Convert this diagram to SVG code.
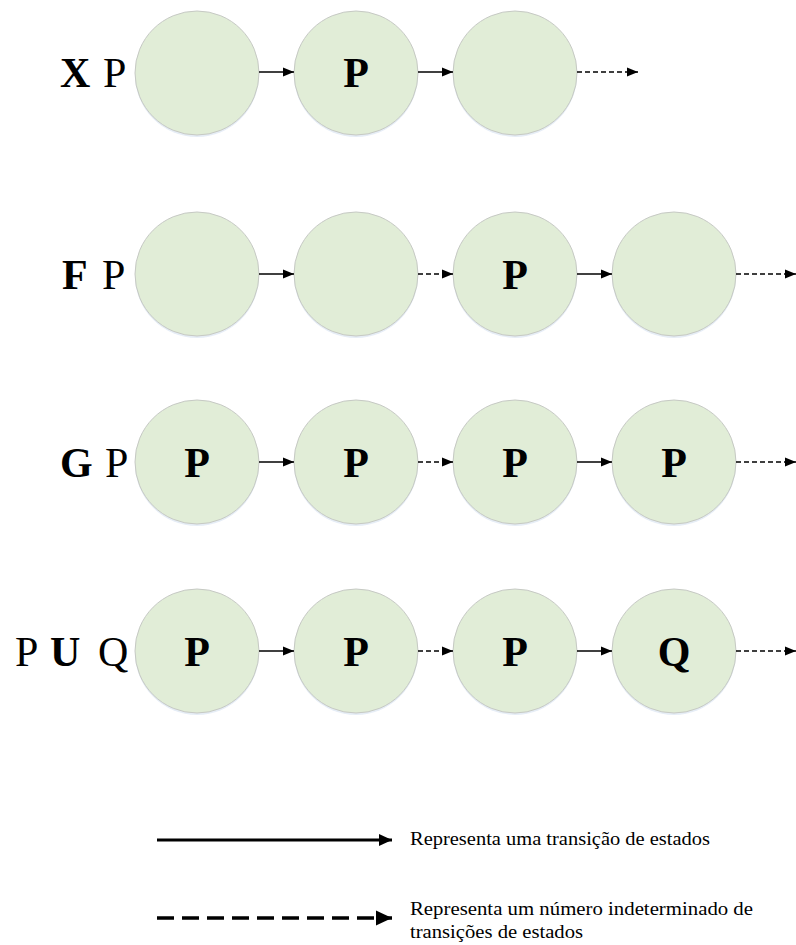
<svg xmlns="http://www.w3.org/2000/svg" width="796" height="945" viewBox="0 0 796 945">
  <style>
    .state { fill: #e1edd7; stroke: #c6c9c4; stroke-width: 1; }
    .shadow { fill: #dce6f2; opacity: 0.7; }
    .big { font-family: "Liberation Serif", "Times New Roman", serif; font-size: 42px; fill: #000; }
    .b { font-weight: bold; }
    .inner { font-family: "Liberation Serif", "Times New Roman", serif; font-size: 42px; font-weight: bold; fill: #000; text-anchor: middle; }
    .step { stroke: #000; stroke-width: 1.4; fill: none; marker-end: url(#head); }
    .many { stroke: #000; stroke-width: 1.4; fill: none; stroke-dasharray: 5 3; marker-end: url(#head); }
    .legend { font-family: "Liberation Serif", "Times New Roman", serif; font-size: 18px; fill: #000; }
  </style>
  <defs>
    <marker id="head" markerUnits="userSpaceOnUse" markerWidth="11" markerHeight="10" refX="11" refY="5" orient="auto">
      <path d="M0,0.5 L11,5 L0,9.5 z" fill="#000"/>
    </marker>
    <marker id="bighead" markerUnits="userSpaceOnUse" markerWidth="13" markerHeight="14" refX="13" refY="7" orient="auto">
      <path d="M0,1 L13,7 L0,13 z" fill="#000"/>
    </marker>
    <marker id="bighead2" markerUnits="userSpaceOnUse" markerWidth="16" markerHeight="16" refX="16" refY="8" orient="auto">
      <path d="M0,0.5 L16,8 L0,15.5 z" fill="#000"/>
    </marker>
    <g id="st">
      <circle class="shadow" cx="0" cy="2" r="62"/>
      <circle class="state" cx="0" cy="0" r="62"/>
    </g>
  </defs>

  <!-- formula labels -->
  <g id="label-XP">
    <text class="big" y="87"><tspan class="b" x="60">X</tspan><tspan x="103">P</tspan></text>
  </g>
  <g id="label-FP">
    <text class="big" y="289"><tspan class="b" x="62">F</tspan><tspan x="102">P</tspan></text>
  </g>
  <g id="label-GP">
    <text class="big" y="477"><tspan class="b" x="60">G</tspan><tspan x="105">P</tspan></text>
  </g>
  <g id="label-PUQ">
    <text class="big" y="666"><tspan x="15">P</tspan><tspan class="b" x="50">U</tspan><tspan x="98">Q</tspan></text>
  </g>

  <!-- row 1: X P -->
  <g id="x1"><use href="#st" x="197" y="73"/></g>
  <g id="x2"><use href="#st" x="356" y="73"/><text class="inner" x="356" y="87">P</text></g>
  <g id="x3"><use href="#st" x="515" y="73"/></g>

  <!-- row 2: F P -->
  <g id="f1"><use href="#st" x="197" y="274"/></g>
  <g id="f2"><use href="#st" x="356" y="274"/></g>
  <g id="f3"><use href="#st" x="515" y="274"/><text class="inner" x="515" y="289">P</text></g>
  <g id="f4"><use href="#st" x="674" y="274"/></g>

  <!-- row 3: G P -->
  <g id="g1"><use href="#st" x="197" y="462"/><text class="inner" x="197" y="477">P</text></g>
  <g id="g2"><use href="#st" x="356" y="462"/><text class="inner" x="356" y="477">P</text></g>
  <g id="g3"><use href="#st" x="515" y="462"/><text class="inner" x="515" y="477">P</text></g>
  <g id="g4"><use href="#st" x="674" y="462"/><text class="inner" x="674" y="477">P</text></g>

  <!-- row 4: P U Q -->
  <g id="u1"><use href="#st" x="197" y="651"/><text class="inner" x="197" y="666">P</text></g>
  <g id="u2"><use href="#st" x="356" y="651"/><text class="inner" x="356" y="666">P</text></g>
  <g id="u3"><use href="#st" x="515" y="651"/><text class="inner" x="515" y="666">P</text></g>
  <g id="u4"><use href="#st" x="674" y="651"/><text class="inner" x="674" y="666">Q</text></g>

  <!-- transitions -->
  <g id="connectors">
    <line class="step" x1="259" y1="72" x2="294" y2="72"/>
    <line class="step" x1="418" y1="72" x2="453" y2="72"/>
    <line class="many" x1="577" y1="72" x2="638" y2="72"/>

    <line class="step" x1="259" y1="274" x2="294" y2="274"/>
    <line class="many" x1="418" y1="274" x2="453" y2="274"/>
    <line class="step" x1="577" y1="274" x2="612" y2="274"/>
    <line class="many" x1="736" y1="274" x2="796" y2="274"/>

    <line class="step" x1="259" y1="462" x2="294" y2="462"/>
    <line class="many" x1="418" y1="462" x2="453" y2="462"/>
    <line class="step" x1="577" y1="462" x2="612" y2="462"/>
    <line class="many" x1="736" y1="462" x2="796" y2="462"/>

    <line class="step" x1="259" y1="651" x2="294" y2="651"/>
    <line class="many" x1="418" y1="651" x2="453" y2="651"/>
    <line class="step" x1="577" y1="651" x2="612" y2="651"/>
    <line class="many" x1="736" y1="651" x2="796" y2="651"/>
  </g>

  <!-- legend -->
  <g id="legend">
    <line x1="157" y1="840" x2="392" y2="840" stroke="#000" stroke-width="3" marker-end="url(#bighead)"/>
    <text class="legend" x="410" y="845" textLength="300" lengthAdjust="spacingAndGlyphs">Representa uma transição de estados</text>
    <line x1="157" y1="918" x2="392" y2="918" stroke="#000" stroke-width="3.5" stroke-dasharray="17 8" marker-end="url(#bighead2)"/>
    <text class="legend" x="410" y="915" textLength="343" lengthAdjust="spacingAndGlyphs">Representa um número indeterminado de</text>
    <text class="legend" x="410" y="938" textLength="173" lengthAdjust="spacingAndGlyphs">transições de estados</text>
  </g>
</svg>
